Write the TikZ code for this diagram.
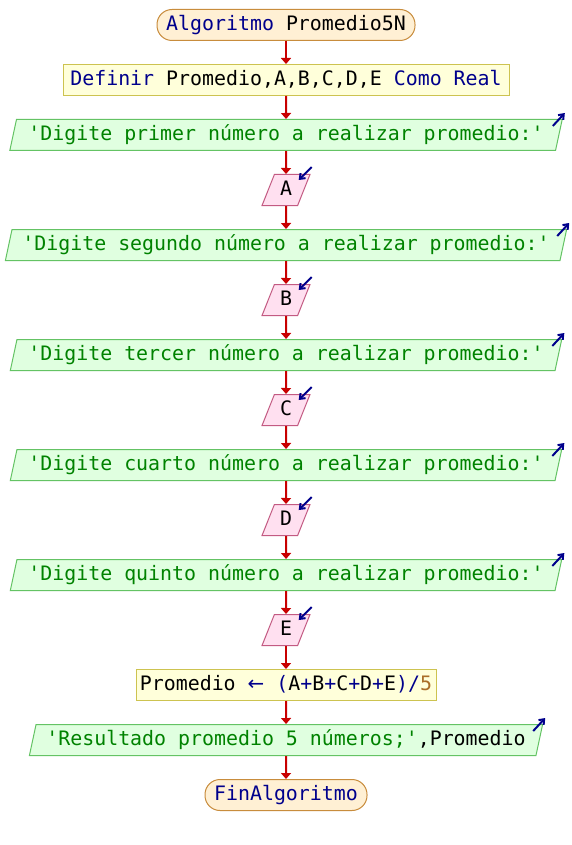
\documentclass[tikz,border=0pt]{standalone}
\usepackage{fontspec}
\usepackage{tikz}
\usetikzlibrary{shapes.geometric,arrows.meta}
\newfontfamily\psfont{DejaVu Sans Mono}[Ligatures=TeXOff]
\newfontfamily\arrfont{DejaVu Sans}
\definecolor{kwblue}{RGB}{0,0,140}
\definecolor{strgreen}{RGB}{0,130,0}
\definecolor{numbrown}{RGB}{170,110,40}
\definecolor{flowred}{RGB}{200,0,0}
\newcommand{\kw}[1]{\textcolor{kwblue}{#1}}
\newcommand{\strg}[1]{\textcolor{strgreen}{#1}}
\newcommand{\numb}[1]{\textcolor{numbrown}{#1}}

\begin{document}
\begin{tikzpicture}
[x=1pt,y=-1pt,
every node/.style={font=\psfont\fontsize{19.9}{22}\selectfont,inner sep=0pt,minimum height=31pt,text height=14.5pt,text depth=4pt},
term/.style={draw={rgb,255:red,200;green,140;blue,60},fill={rgb,255:red,255;green,240;blue,212},rounded corners=15pt,line width=1pt},
proc/.style={draw={rgb,255:red,205;green,195;blue,80},fill={rgb,255:red,255;green,255;blue,218},line width=1pt},
outp/.style={trapezium,trapezium left angle=71,trapezium right angle=109,trapezium stretches=true,draw={rgb,255:red,100;green,195;blue,100},fill={rgb,255:red,224;green,255;blue,224},line width=1pt},
inp/.style={trapezium,trapezium left angle=71,trapezium right angle=109,trapezium stretches=true,draw={rgb,255:red,195;green,90;blue,130},fill={rgb,255:red,255;green,224;blue,240},line width=1pt,minimum width=48pt},
flow/.style={draw=flowred,line width=2pt,-{Triangle[length=6pt,width=10pt]}},
icon/.style={draw=kwblue,line width=2pt,-{Straight Barb[length=4.5pt,width=7pt]}}]
\useasboundingbox[fill=white] (0,0) rectangle (572,845);

\node[term,minimum width=258pt] (v1) at (286,25) {\kw{Algoritmo} Promedio5N};
\node[proc,minimum width=446pt] (v2) at (286,80) {\kw{Definir} Promedio,A,B,C,D,E \kw{Como Real}};

\node[outp,minimum width=553pt] (v3) at (286,135) {\strg{'Digite primer número a realizar promedio:'}};
\node[inp] (v4) at (286,190) {A};
\node[outp,minimum width=563pt] (v5) at (286,245) {\strg{'Digite segundo número a realizar promedio:'}};
\node[inp] (v6) at (286,300) {B};
\node[outp,minimum width=552pt] (v7) at (286,355) {\strg{'Digite tercer número a realizar promedio:'}};
\node[inp] (v8) at (286,410) {C};
\node[outp,minimum width=552pt] (v9) at (286,465) {\strg{'Digite cuarto número a realizar promedio:'}};
\node[inp] (v10) at (286,520) {D};
\node[outp,minimum width=552pt] (v11) at (286,575) {\strg{'Digite quinto número a realizar promedio:'}};
\node[inp] (v12) at (286,630) {E};

\node[proc,minimum width=300pt] (v13) at (286,685) {Promedio \kw{{\arrfont ←} (}A\kw{+}B\kw{+}C\kw{+}D\kw{+}E\kw{)/}\numb{5}};
\node[outp,minimum width=514pt] (v14) at (286,740) {\strg{'Resultado promedio 5 números;'},Promedio};
\node[term,minimum width=162pt] (v15) at (286,795) {\kw{FinAlgoritmo}};

\foreach \from/\to in {v1/v2,v2/v3,v3/v4,v4/v5,v5/v6,v6/v7,v7/v8,v8/v9,v9/v10,v10/v11,v11/v12,v12/v13,v13/v14,v14/v15}
\draw[flow] (\from.south) -- (\to.north);

\foreach \out in {v3,v5,v7,v9,v11,v14}
\draw[icon] ([shift={(-10,7)}]\out.top right corner) -- ([shift={(2,-6)}]\out.top right corner);
\foreach \inn in {v4,v6,v8,v10,v12}
\draw[icon] ([shift={(1,-7)}]\inn.top right corner) -- ([shift={(-12,6)}]\inn.top right corner);
\end{tikzpicture}
\end{document}
